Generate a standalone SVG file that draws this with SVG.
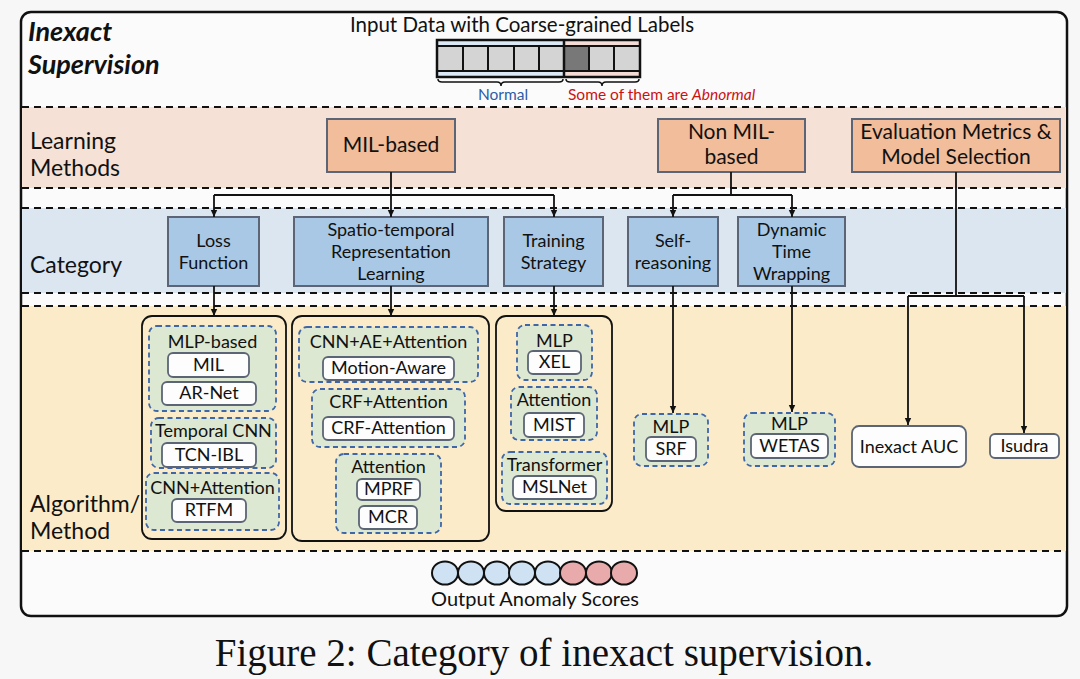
<svg xmlns="http://www.w3.org/2000/svg" width="1080" height="679" viewBox="0 0 1080 679">
<defs>
<style>
text{font-family:Lato,"Open Sans","DejaVu Sans",sans-serif;fill:#111;}
.c{text-anchor:middle;}
.lbl{font-size:23px;}
.lm{font-size:21px;}
.cat{font-size:18px;}
.gt{font-size:18px;}
.bt{font-size:18px;}
.dash{stroke:#111;stroke-width:1.8;stroke-dasharray:7 5;fill:none;}
.pbox{fill:#f2bd9a;stroke:#5b6576;stroke-width:2;}
.bbox{fill:#a8c8e5;stroke:#5b6576;stroke-width:2;}
.grp{fill:#dde8d2;stroke:#3f67a8;stroke-width:1.8;stroke-dasharray:5 3.5;}
.wb{fill:#fdfdfd;stroke:#5b6576;stroke-width:1.8;}
.cont{fill:none;stroke:#111;stroke-width:1.8;}
.con{fill:none;stroke:#111;stroke-width:1.8;}
.cell{fill:#d4d4d4;stroke:#111;stroke-width:2;}
</style>
<marker id="ah" markerWidth="8" markerHeight="8" refX="7" refY="4" orient="auto" markerUnits="userSpaceOnUse">
<path d="M0,0.8 L7,4 L0,7.2 Z" fill="#111"/>
</marker>
</defs>
<rect x="0" y="0" width="1080" height="679" fill="#f7f7f7"/>
<rect x="21" y="12" width="1046" height="604" rx="10" fill="#fbfbfb" stroke="#111" stroke-width="2.5"/>
<!-- bands -->
<rect x="22" y="107" width="1044" height="81" fill="#f5e1d6"/>
<rect x="22" y="208" width="1044" height="85" fill="#dbe6f1"/>
<rect x="22" y="306" width="1044" height="245" fill="#fbebc9"/>
<g id="band-lines">
<line class="dash" x1="22" y1="107" x2="1066" y2="107"/>
<line class="dash" x1="22" y1="188" x2="1066" y2="188"/>
<line class="dash" x1="22" y1="208" x2="1066" y2="208"/>
<line class="dash" x1="22" y1="293" x2="1066" y2="293"/>
<line class="dash" x1="22" y1="306" x2="1066" y2="306"/>
<line class="dash" x1="22" y1="551" x2="1066" y2="551"/>
</g>
<!-- left labels -->
<g id="title">
<text x="28" y="41" style="font-size:27px;font-weight:bold;font-style:italic">Inexact</text>
<text x="28" y="74" style="font-size:27px;font-weight:bold;font-style:italic">Supervision</text>
</g>
<text class="lbl" x="30" y="149">Learning</text>
<text class="lbl" x="30" y="176">Methods</text>
<text class="lbl" x="30" y="273">Category</text>
<text class="lbl" x="30" y="512">Algorithm/</text>
<text class="lbl" x="30" y="539">Method</text>
<!-- input -->
<g id="input">
<text class="c" x="522" y="32" style="font-size:20.5px">Input Data with Coarse-grained Labels</text>
<rect x="437" y="40" width="127" height="37" fill="#dbe8f5"/>
<rect x="564" y="40" width="76" height="37" fill="#f5dbd6"/>
<rect class="cell" x="437" y="46" width="26" height="25"/>
<rect class="cell" x="463" y="46" width="25" height="25"/>
<rect class="cell" x="488" y="46" width="26" height="25"/>
<rect class="cell" x="514" y="46" width="25" height="25"/>
<rect class="cell" x="539" y="46" width="25" height="25"/>
<rect class="cell" x="564" y="46" width="25" height="25" style="fill:#787878"/>
<rect class="cell" x="589" y="46" width="25" height="25"/>
<rect class="cell" x="614" y="46" width="26" height="25"/>
<rect x="437" y="40" width="203" height="37" fill="none" stroke="#111" stroke-width="2.5"/>
<line x1="564" y1="40" x2="564" y2="77" stroke="#111" stroke-width="2.5"/>
<path d="M438,79 Q438,82 442,82 L497,82 Q501,82 501,86 Q501,82 505,82 L559,82 Q563,82 563,79" fill="none" stroke="#111" stroke-width="1.5"/>
<path d="M566,79 Q566,82 570,82 L598,82 Q602,82 602,86 Q602,82 606,82 L635,82 Q639,82 639,79" fill="none" stroke="#111" stroke-width="1.5"/>
<text class="c" x="503" y="100" style="font-size:15.5px;fill:#2f5ca6">Normal</text>
<text x="568" y="100" style="font-size:15.5px;fill:#cc1111">Some of them are <tspan style="font-style:italic;fill:#cc1111">Abnormal</tspan></text>
</g>
<!-- learning methods -->
<g id="mil-based"><rect class="pbox" x="327" y="119" width="128" height="53"/><text class="c lm" x="391" y="152">MIL-based</text></g>
<g id="non-mil-based"><rect class="pbox" x="658" y="119" width="147" height="53"/><text class="c lm" x="731.5" y="139">Non MIL-</text><text class="c lm" x="731.5" y="164">based</text></g>
<g id="eval-metrics"><rect class="pbox" x="852" y="119" width="208" height="53"/><text class="c lm" x="956" y="139">Evaluation Metrics &amp;</text><text class="c lm" x="956" y="164">Model Selection</text></g>
<!-- categories -->
<g id="loss-function"><rect class="bbox" x="168" y="217" width="91" height="69"/><text class="c cat" x="213.5" y="247">Loss</text><text class="c cat" x="213.5" y="269">Function</text></g>
<g id="spatio-temporal"><rect class="bbox" x="294" y="217" width="194" height="69"/><text class="c cat" x="391" y="236">Spatio-temporal</text><text class="c cat" x="391" y="258">Representation</text><text class="c cat" x="391" y="280">Learning</text></g>
<g id="training-strategy"><rect class="bbox" x="504" y="217" width="99" height="69"/><text class="c cat" x="553.5" y="247">Training</text><text class="c cat" x="553.5" y="269">Strategy</text></g>
<g id="self-reasoning"><rect class="bbox" x="628" y="217" width="90" height="69"/><text class="c cat" x="673" y="247">Self-</text><text class="c cat" x="673" y="269">reasoning</text></g>
<g id="dtw"><rect class="bbox" x="738" y="217" width="107" height="69"/><text class="c cat" x="791.5" y="236">Dynamic</text><text class="c cat" x="791.5" y="258">Time</text><text class="c cat" x="791.5" y="280">Wrapping</text></g>
<!-- connectors -->
<g id="connectors">
<path class="con" d="M391,172 V195 M214,195 H554 M731,172 V195 M673,195 H792 M956,172 V296 M908,296 H1024"/>
<path class="con" marker-end="url(#ah)" d="M214,195 V217"/>
<path class="con" marker-end="url(#ah)" d="M391,195 V217"/>
<path class="con" marker-end="url(#ah)" d="M554,195 V217"/>
<path class="con" marker-end="url(#ah)" d="M673,195 V217"/>
<path class="con" marker-end="url(#ah)" d="M792,195 V217"/>
<path class="con" marker-end="url(#ah)" d="M214,286 V316"/>
<path class="con" marker-end="url(#ah)" d="M391,286 V316"/>
<path class="con" marker-end="url(#ah)" d="M554,286 V316"/>
<path class="con" marker-end="url(#ah)" d="M673,286 V413"/>
<path class="con" marker-end="url(#ah)" d="M792,286 V412"/>
<path class="con" marker-end="url(#ah)" d="M908,296 V425"/>
<path class="con" marker-end="url(#ah)" d="M1024,296 V433"/>
</g>
<!-- container 1 -->
<g id="loss-methods">
<rect class="cont" x="142" y="316" width="144" height="223" rx="10"/>
<rect class="grp" x="149" y="326" width="127" height="85" rx="8"/>
<text class="c gt" x="212.5" y="348">MLP-based</text>
<rect class="wb" x="168" y="353" width="81" height="24" rx="5"/><text class="c bt" x="208.5" y="371">MIL</text>
<rect class="wb" x="162" y="382" width="94" height="23" rx="5"/><text class="c bt" x="209" y="399">AR-Net</text>
<rect class="grp" x="151" y="418" width="125" height="50" rx="8"/>
<text class="c gt" x="213.5" y="437">Temporal CNN</text>
<rect class="wb" x="162" y="443" width="94" height="24" rx="5"/><text class="c bt" x="209" y="461">TCN-IBL</text>
<rect class="grp" x="146" y="473" width="133" height="57" rx="8"/>
<text class="c gt" x="212.5" y="494">CNN+Attention</text>
<rect class="wb" x="172" y="499" width="74" height="23" rx="5"/><text class="c bt" x="209" y="516">RTFM</text>
</g>
<!-- container 2 -->
<g id="spatio-methods">
<rect class="cont" x="292" y="316" width="197" height="225" rx="10"/>
<rect class="grp" x="299" y="327" width="179" height="55" rx="8"/>
<text class="c gt" x="388.5" y="348">CNN+AE+Attention</text>
<rect class="wb" x="323" y="357" width="131" height="23" rx="5"/><text class="c bt" x="388.5" y="374">Motion-Aware</text>
<rect class="grp" x="312" y="389" width="153" height="58" rx="8"/>
<text class="c gt" x="388.5" y="408">CRF+Attention</text>
<rect class="wb" x="323" y="417" width="131" height="23" rx="5"/><text class="c bt" x="388.5" y="434">CRF-Attention</text>
<rect class="grp" x="336" y="454" width="105" height="79" rx="8"/>
<text class="c gt" x="388.5" y="473">Attention</text>
<rect class="wb" x="357" y="479" width="63" height="21" rx="5"/><text class="c bt" x="388.5" y="495">MPRF</text>
<rect class="wb" x="359" y="506" width="58" height="23" rx="5"/><text class="c bt" x="388" y="523">MCR</text>
</g>
<!-- container 3 -->
<g id="training-methods">
<rect class="cont" x="496" y="316" width="116" height="195" rx="10"/>
<rect class="grp" x="517" y="325" width="75" height="55" rx="8"/>
<text class="c gt" x="554.5" y="347">MLP</text>
<rect class="wb" x="528" y="351" width="53" height="23" rx="5"/><text class="c bt" x="554.5" y="368">XEL</text>
<rect class="grp" x="511" y="387" width="86" height="53" rx="8"/>
<text class="c gt" x="554" y="406">Attention</text>
<rect class="wb" x="524" y="413" width="60" height="24" rx="5"/><text class="c bt" x="554" y="431">MIST</text>
<rect class="grp" x="502" y="452" width="105" height="52" rx="8"/>
<text class="c gt" x="554.5" y="471">Transformer</text>
<rect class="wb" x="513" y="476" width="83" height="23" rx="5"/><text class="c bt" x="554.5" y="493">MSLNet</text>
</g>
<g id="srf">
<rect class="grp" x="634" y="414" width="74" height="52" rx="8"/>
<text class="c gt" x="671" y="433">MLP</text>
<rect class="wb" x="646" y="437" width="50" height="24" rx="5"/><text class="c bt" x="671" y="455">SRF</text>
</g>
<g id="wetas">
<rect class="grp" x="744" y="413" width="91" height="53" rx="8"/>
<text class="c gt" x="789.5" y="430">MLP</text>
<rect class="wb" x="751" y="434" width="77" height="24" rx="5"/><text class="c bt" x="789.5" y="452">WETAS</text>
</g>
<g id="inexact-auc"><rect class="wb" x="852" y="426" width="114" height="41" rx="7"/><text class="c bt" x="909" y="453">Inexact AUC</text></g>
<g id="isudra"><rect class="wb" x="990" y="434" width="69" height="24" rx="5"/><text class="c bt" x="1024.5" y="452">Isudra</text></g>
<!-- output -->
<g id="output">
<g stroke="#111" stroke-width="2">
<ellipse cx="445" cy="573" rx="13" ry="11.5" fill="#cfe2f3"/>
<ellipse cx="471" cy="573" rx="13" ry="11.5" fill="#cfe2f3"/>
<ellipse cx="497" cy="573" rx="13" ry="11.5" fill="#cfe2f3"/>
<ellipse cx="522" cy="573" rx="13" ry="11.5" fill="#cfe2f3"/>
<ellipse cx="548" cy="573" rx="13" ry="11.5" fill="#cfe2f3"/>
<ellipse cx="573" cy="573" rx="13" ry="11.5" fill="#e8aaaa"/>
<ellipse cx="599" cy="573" rx="13" ry="11.5" fill="#e8aaaa"/>
<ellipse cx="624" cy="573" rx="13" ry="11.5" fill="#e8aaaa"/>
</g>
<text class="c" x="535" y="606" style="font-size:20px">Output Anomaly Scores</text>
</g>
<text class="c" x="544" y="666" style="font-family:'Liberation Serif','Times New Roman',serif;font-size:39px">Figure 2: Category of inexact supervision.</text>
</svg>
